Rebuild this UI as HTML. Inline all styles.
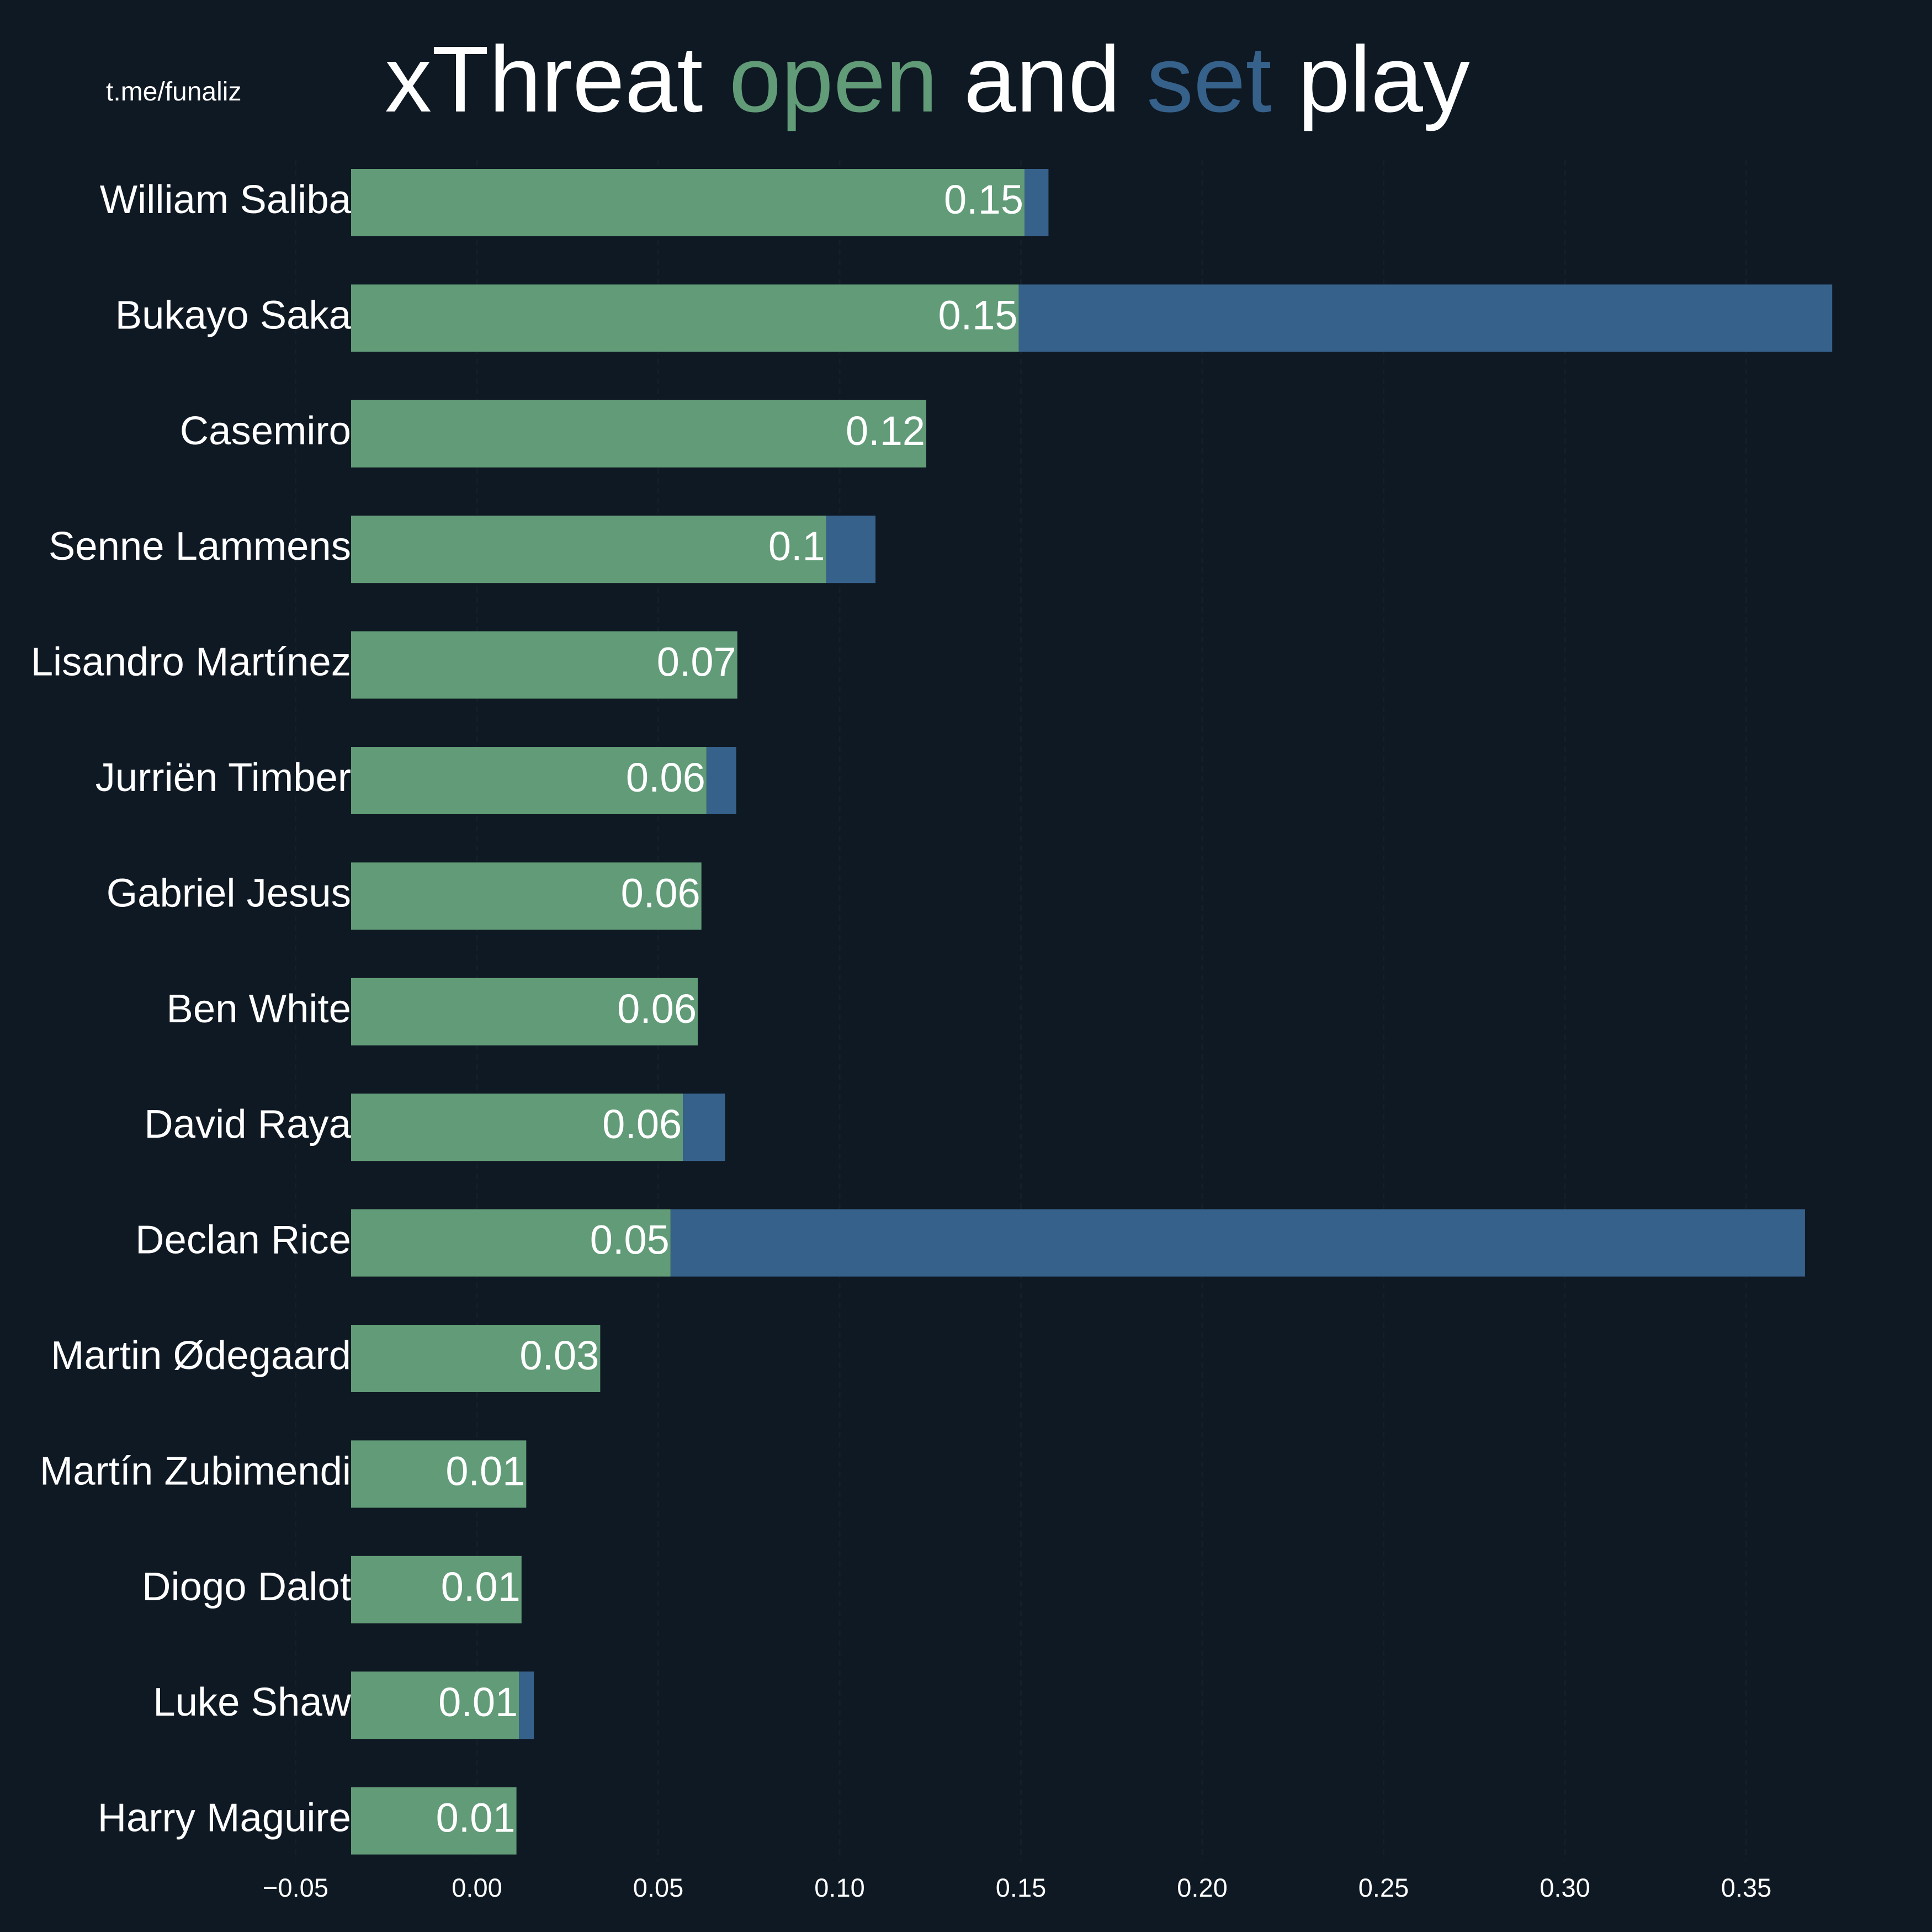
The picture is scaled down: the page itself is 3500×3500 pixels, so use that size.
<!DOCTYPE html>
<html><head><meta charset="utf-8"><style>
html,body{margin:0;padding:0;background:#0f1923;}
svg{display:block;font-family:"Liberation Sans",Arial,sans-serif;}
</style></head><body>
<svg id="chart" width="3500" height="3500" viewBox="0 0 3500 3500" xmlns="http://www.w3.org/2000/svg">
<rect x="0" y="0" width="3500" height="3500" fill="#0f1923"/>
<text x="192" y="182" font-size="48" fill="#ffffff">t.me/funaliz</text>
<text x="1680" y="202" font-size="170" fill="#ffffff" text-anchor="middle">xThreat <tspan fill="#619b77">open</tspan> and <tspan fill="#36618b">set</tspan> play</text>
<g id="grid"></g>
<g id="bars"></g>
<g id="labels"></g>
<g id="xaxis"></g>
</svg>
<script>
const players = ["William Saliba","Bukayo Saka","Casemiro","Senne Lammens","Lisandro Martínez","Jurriën Timber","Gabriel Jesus","Ben White","David Raya","Declan Rice","Martin Ødegaard","Martín Zubimendi","Diogo Dalot","Luke Shaw","Harry Maguire"];
const openPlay = [0.151,0.1494,0.1239,0.0963,0.0718,0.0633,0.0619,0.0609,0.0568,0.0534,0.034,0.0136,0.0123,0.0116,0.0109];
const setPlay = [0.0066,0.2243,0,0.0136,0,0.0082,0,0,0.0116,0.3128,0,0,0,0.0041,0];
const xTicks = [-0.05,0,0.05,0.10,0.15,0.20,0.25,0.30,0.35];
const xTickLabels = ["−0.05","0.00","0.05","0.10","0.15","0.20","0.25","0.30","0.35"];

const NS = "http://www.w3.org/2000/svg";
const zeroX = 864, pxPerUnit = 6570;
const axisLeft = 636;
const row0 = 367, rowStep = 209.4, barH = 122;
const xs = v => zeroX + v * pxPerUnit;
const ys = i => row0 + i * rowStep;
function mk(tag, attrs, parent){const e=document.createElementNS(NS,tag);for(const k in attrs)e.setAttribute(k,attrs[k]);parent.appendChild(e);return e;}
const grid=document.getElementById('grid'), bars=document.getElementById('bars'), labels=document.getElementById('labels'), xaxis=document.getElementById('xaxis');

xTicks.forEach((t,i)=>{
  const l=mk('line',{x1:xs(t),x2:xs(t),y1:290,y2:3370,stroke:'#151f2a','stroke-width':3,'stroke-dasharray':'10 8'},grid);
  
  
  const tx=mk('text',{x:xs(t),y:3436,'font-size':47,fill:'#ffffff','text-anchor':'middle'},xaxis);
  
  
  tx.textContent=xTickLabels[i];
});

players.forEach((p,i)=>{
  const cy=ys(i), top=cy-barH/2;
  const oEnd=xs(openPlay[i]);
  const g=mk('rect',{x:axisLeft,y:top,width:Math.max(0,oEnd-axisLeft),height:barH,fill:'#619b77'},bars);
  
  
  if(setPlay[i]>0){
    const sEnd=xs(openPlay[i]+setPlay[i]);
    const b=mk('rect',{x:oEnd,y:top,width:sEnd-oEnd,height:barH,fill:'#36618b'},bars);
    
    
  }
  const n=mk('text',{x:axisLeft,y:cy+19,'font-size':72.5,fill:'#ffffff','text-anchor':'end'},labels);
  
  
  n.textContent=p;
  const v=mk('text',{x:oEnd-2,y:cy+20,'font-size':74,fill:'#ffffff','text-anchor':'end'},labels);
  
  
  v.textContent=String(Number(openPlay[i].toFixed(2)));
});
</script>
</body></html>
